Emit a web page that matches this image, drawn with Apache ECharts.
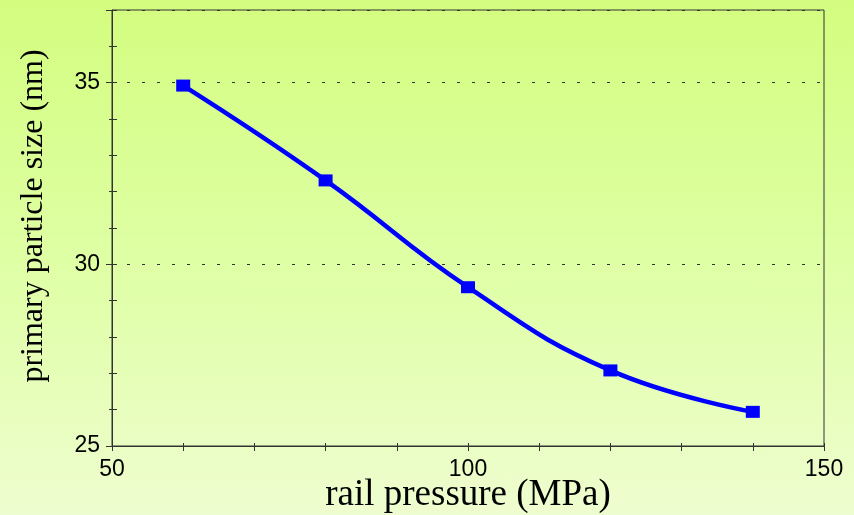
<!DOCTYPE html>
<html>
<head>
<meta charset="utf-8">
<script src="https://cdn.jsdelivr.net/npm/echarts@6/dist/echarts.min.js"></script>
<style>
html,body{margin:0;padding:0;}
#c{width:854px;height:515px;background:linear-gradient(to bottom,#d3fd7f 0%,#e0ffa8 55%,#eefdcf 100%);}
</style>
</head>
<body>
<div id="c"></div>
<script>
var pressure = [60, 80, 100, 120, 140];
var particleSize = [34.92, 32.31, 29.37, 27.08, 25.94];
var xTitle = 'rail pressure (MPa)';
var yTitle = 'primary particle size (nm)';

var el = document.getElementById('c');
var chart = echarts.init(el, null, {renderer: 'canvas'});
var axisColor = '#333';
var labelFont = {color: '#000', fontFamily: 'Liberation Sans', fontSize: 23};
chart.setOption({
  animation: false,
  grid: {left: 112, right: 30, top: 10, bottom: 69, outerBoundsMode: 'none', containLabel: false,
         show: true, borderColor: '#333', borderWidth: 1, backgroundColor: 'transparent'},
  xAxis: [{
    type: 'value', min: 50, max: 150, interval: 10, position: 'bottom',
    axisLine: {show: true, lineStyle: {color: axisColor, width: 1}},
    axisTick: {show: true, inside: false, length: 5, lineStyle: {color: axisColor}},
    axisLabel: Object.assign({margin: 12, formatter: function (v) { return v % 50 === 0 ? String(v) : ''; }}, labelFont),
    splitLine: {show: false}
  }, {
    type: 'value', min: 50, max: 150, interval: 10, position: 'bottom',
    axisLine: {show: false},
    axisTick: {show: true, inside: true, length: 3, lineStyle: {color: axisColor}},
    axisLabel: {show: false},
    splitLine: {show: false}
  }],
  yAxis: [{
    type: 'value', min: 25, max: 37, interval: 1, position: 'left',
    axisLine: {show: true, lineStyle: {color: axisColor, width: 1}},
    axisTick: {show: true, inside: true, length: 5, lineStyle: {color: axisColor}},
    axisLabel: Object.assign({margin: 12, formatter: function (v) { return v % 5 === 0 ? String(v) : ''; }}, labelFont),
    splitLine: {show: false}
  }, {
    type: 'value', min: 25, max: 37, interval: 5, position: 'left',
    axisLine: {show: false},
    axisTick: {show: true, inside: false, length: 6, lineStyle: {color: axisColor}},
    axisLabel: {show: false},
    splitLine: {show: true, lineStyle: {color: '#333', type: [3, 12], width: 1}}
  }, {
    type: 'value', min: 25, max: 37, interval: 1, position: 'left',
    axisLine: {show: false},
    axisTick: {show: true, inside: false, length: 3, lineStyle: {color: axisColor}},
    axisLabel: {show: false},
    splitLine: {show: false}
  }],
  graphic: [{
    type: 'text', x: 34, y: 216, rotation: Math.PI / 2,
    style: {text: yTitle, fontFamily: 'Liberation Serif', fontSize: 32, fill: '#000', align: 'center', verticalAlign: 'middle'}
  }, {
    type: 'text', x: 468, y: 495,
    style: {text: xTitle, fontFamily: 'Liberation Serif', fontSize: 37, fill: '#000', align: 'center', verticalAlign: 'middle'}
  }],
  series: [{
    type: 'line',
    data: pressure.map(function (p, i) { return [p, particleSize[i]]; }),
    smooth: 0.45,
    symbol: 'rect', symbolSize: [14, 12],
    lineStyle: {color: '#0000ff', width: 4.5},
    itemStyle: {color: '#0000ff'},
    z: 5
  }]
});
</script>
</body>
</html>
